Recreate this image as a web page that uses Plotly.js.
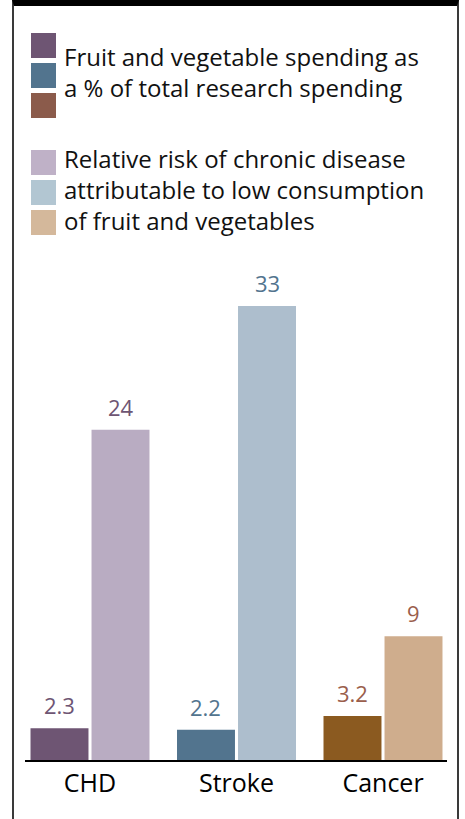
<!DOCTYPE html>
<html>
<head>
<meta charset="utf-8">
<script src="https://cdn.plot.ly/plotly-3.0.1.min.js"></script>
<style>
  html, body { margin: 0; padding: 0; background: #fff; }
  #wrap { position: relative; width: 465px; height: 819px; }
  #chart { position: absolute; left: 0; top: 0; width: 465px; height: 819px; }
  #frame {
    position: absolute; left: 12px; top: 0; width: 443px; height: 813px;
    border-top: 6px solid #000; border-left: 2px solid #3a3a3a; border-right: 2px solid #3a3a3a;
    pointer-events: none;
  }
</style>
</head>
<body>
<div id="wrap">
  <div id="chart"></div>
  <div id="frame"></div>
</div>
<script>
// Diseases compared
const categories = ['CHD', 'Stroke', 'Cancer'];

// Fruit and vegetable research spending, % of total research spending
const spending = [2.3, 2.2, 3.2];
// Relative risk of chronic disease attributable to low fruit and vegetable consumption
const relativeRisk = [24, 33, 9];

// Per-disease colours: dark shade for spending, light shade for risk
const spendingColors = ['#6e5573', '#52748e', '#8b5a20'];
const riskColors = ['#b9acc2', '#adbecd', '#cfad8d'];
const labelColors = ['#6e5573', '#52748e', '#9a5e4c'];

// Legend blocks
const legendSpendingText = 'Fruit and vegetable spending as<br>a % of total research spending';
const legendRiskText = 'Relative risk of chronic disease<br>attributable to low consumption<br>of fruit and vegetables';
const legendSpendingSwatches = ['#6e5573', '#52748e', '#8b5b4b'];
const legendRiskSwatches = ['#bfb1c7', '#b2c6d2', '#d4b89b'];

const FONT = '"Open Sans", "Noto Sans", sans-serif';
const W = 465, H = 819;
const M = { l: 25, r: 18, t: 250, b: 59 };
const plotW = W - M.l - M.r, plotH = H - M.t - M.b;
const BARGAP = 0.167, GROUPGAP = 0.05;

// pixel -> paper helpers for the legend decoration
const px = x => (x - M.l) / plotW;
const py = y => (H - M.b - y) / plotH;

const shapes = [];
function swatches(colors, top) {
  colors.forEach((c, i) => {
    const y0 = top + i * 30;
    shapes.push({
      type: 'rect', xref: 'paper', yref: 'paper',
      x0: px(31), x1: px(56), y0: py(y0 + 25), y1: py(y0),
      fillcolor: c, line: { width: 0 }
    });
  });
}
swatches(legendSpendingSwatches, 33);
swatches(legendRiskSwatches, 150);

const annotations = [
  { text: legendSpendingText, x: px(62), y: py(38), xref: 'paper', yref: 'paper',
    xanchor: 'left', yanchor: 'top', align: 'left', showarrow: false,
    font: { family: FONT, size: 24, color: '#111' } },
  { text: legendRiskText, x: px(62), y: py(140), xref: 'paper', yref: 'paper',
    xanchor: 'left', yanchor: 'top', align: 'left', showarrow: false,
    font: { family: FONT, size: 24, color: '#111' } }
];

// Value labels above each bar; offset half a bar slot to the left/right of the category
const xRange = [-0.4437, 2.4369];
const unitPx = plotW / (xRange[1] - xRange[0]);
const slotPx = unitPx * (1 - BARGAP) / 2;
function valueLabels(values, side) {
  values.forEach((v, i) => {
    annotations.push({
      x: categories[i], y: v, xref: 'x', yref: 'y',
      text: String(v), showarrow: false,
      xanchor: 'center', yanchor: 'bottom',
      xshift: side * slotPx / 2, yshift: 6,
      font: { family: FONT, size: 22, color: labelColors[i] }
    });
  });
}
valueLabels(spending, -1);
valueLabels(relativeRisk, 1);

const traces = [
  { type: 'bar', x: categories, y: spending, name: 'Spending',
    marker: { color: spendingColors, line: { width: 0 } } },
  { type: 'bar', x: categories, y: relativeRisk, name: 'Relative risk',
    marker: { color: riskColors, line: { width: 0 } } }
];

const layout = {
  width: W, height: H,
  margin: M,
  paper_bgcolor: '#fff', plot_bgcolor: '#fff',
  showlegend: false,
  barmode: 'group', bargap: BARGAP, bargroupgap: GROUPGAP,
  xaxis: {
    range: xRange, fixedrange: true,
    showline: true, linecolor: '#000', linewidth: 2,
    showgrid: false, zeroline: false, ticks: '',
    tickfont: { family: FONT, size: 25, color: '#000' }
  },
  yaxis: {
    range: [0, plotH / 13.76], visible: false, fixedrange: true
  },
  shapes: shapes,
  annotations: annotations,
  hovermode: false
};

Plotly.newPlot('chart', traces, layout, { displayModeBar: false, staticPlot: true });
</script>
</body>
</html>
